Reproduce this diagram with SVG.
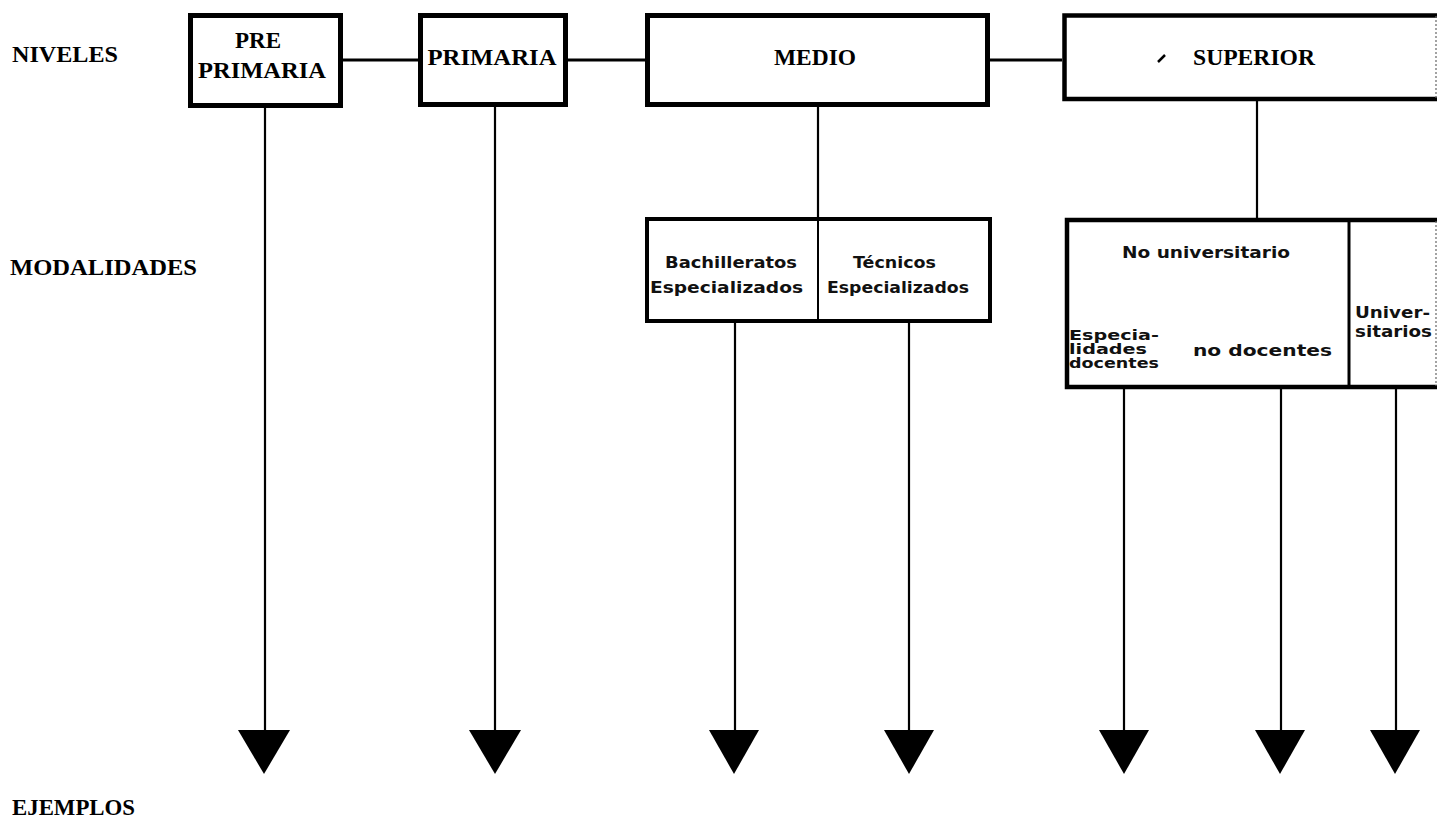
<svg xmlns="http://www.w3.org/2000/svg" width="1439" height="825" viewBox="0 0 1439 825">
<style>
.lbl{font-family:"Liberation Serif","Times New Roman",serif;font-weight:bold;font-size:24px;fill:#000}
.lvl{font-family:"Liberation Serif","Times New Roman",serif;font-weight:bold;font-size:24px;fill:#000;text-anchor:middle}
.mod{font-family:"DejaVu Sans","Liberation Sans",sans-serif;font-weight:bold;font-size:16px;fill:#111}
.sm{font-size:14px}
.box{fill:#fff;stroke:#000;stroke-width:5}
.mbox{fill:#fff;stroke:#000;stroke-width:4}
.edge{fill:none;stroke:#000;stroke-width:4.5}
.thin{fill:none;stroke:#666;stroke-width:1.2;stroke-dasharray:2 2}
.con{stroke:#000;stroke-width:3;fill:none}
.v{stroke:#000;stroke-width:2.2;fill:none}
.head{fill:#000}
</style>
<rect width="1439" height="825" fill="#fff"/>

<g id="row-labels">
<text class="lbl" x="12" y="62" textLength="106" lengthAdjust="spacingAndGlyphs">NIVELES</text>
<text class="lbl" x="10" y="275" textLength="187" lengthAdjust="spacingAndGlyphs">MODALIDADES</text>
<text class="lbl" x="12" y="815" textLength="123" lengthAdjust="spacingAndGlyphs">EJEMPLOS</text>
</g>

<g id="connectors">
<line class="con" x1="343" y1="60" x2="418" y2="60"/>
<line class="con" x1="568" y1="60" x2="645" y2="60"/>
<line class="con" x1="990" y1="60" x2="1062" y2="60"/>
<line class="v" x1="265" y1="108" x2="265" y2="732"/>
<line class="v" x1="495" y1="107" x2="495" y2="732"/>
<line class="v" x1="818" y1="107" x2="818" y2="219"/>
<line class="v" x1="1257" y1="101" x2="1257" y2="220"/>
<line class="v" x1="735" y1="323" x2="735" y2="732"/>
<line class="v" x1="909" y1="323" x2="909" y2="732"/>
<line class="v" x1="1124" y1="389" x2="1124" y2="732"/>
<line class="v" x1="1281" y1="389" x2="1281" y2="732"/>
<line class="v" x1="1396" y1="389" x2="1396" y2="732"/>
<polygon class="head" points="238,730 290,730 264,774"/>
<polygon class="head" points="469,730 521,730 495,774"/>
<polygon class="head" points="709,730 759,730 734,774"/>
<polygon class="head" points="884,730 934,730 909,774"/>
<polygon class="head" points="1099,730 1149,730 1124,774"/>
<polygon class="head" points="1255,730 1305,730 1280,774"/>
<polygon class="head" points="1370,730 1420,730 1395,774"/>
</g>

<g id="pre-primaria">
<rect class="box" x="190.5" y="15.5" width="150" height="90"/>
<text class="lvl" x="258" y="48" textLength="46" lengthAdjust="spacingAndGlyphs">PRE</text>
<text class="lvl" x="262" y="78" textLength="128" lengthAdjust="spacingAndGlyphs">PRIMARIA</text>
</g>

<g id="primaria">
<rect class="box" x="420.5" y="15.5" width="145" height="89"/>
<text class="lvl" x="492" y="65" textLength="129" lengthAdjust="spacingAndGlyphs">PRIMARIA</text>
</g>

<g id="medio">
<rect class="box" x="647.5" y="15.5" width="340" height="89"/>
<text class="lvl" x="815" y="65" textLength="82" lengthAdjust="spacingAndGlyphs">MEDIO</text>
</g>

<g id="superior">
<rect x="1064" y="15" width="373" height="85" fill="#fff"/>
<path class="edge" d="M1437,15.5 H1064.5 V99 H1437"/>
<line class="thin" x1="1436" y1="16" x2="1436" y2="99"/>
<line x1="1158" y1="62" x2="1165" y2="55" stroke="#000" stroke-width="2.5"/>
<text class="lvl" x="1254" y="65" textLength="122" lengthAdjust="spacingAndGlyphs">SUPERIOR</text>
</g>

<g id="medio-modalidades">
<rect class="mbox" x="647" y="219" width="343" height="102"/>
<line stroke="#000" stroke-width="2" x1="818" y1="219" x2="818" y2="321"/>
<text class="mod" x="665" y="268" textLength="132" lengthAdjust="spacingAndGlyphs">Bachilleratos</text>
<text class="mod" x="650" y="293" textLength="153" lengthAdjust="spacingAndGlyphs">Especializados</text>
<text class="mod" x="853" y="268" textLength="83" lengthAdjust="spacingAndGlyphs">Técnicos</text>
<text class="mod" x="827" y="293" textLength="142" lengthAdjust="spacingAndGlyphs">Especializados</text>
</g>

<g id="superior-modalidades">
<rect x="1067" y="220" width="370" height="167" fill="#fff"/>
<path class="edge" d="M1437,220 H1067 V387 H1437"/>
<line class="thin" x1="1436" y1="221" x2="1436" y2="386"/>
<line stroke="#000" stroke-width="3" x1="1349" y1="220" x2="1349" y2="387"/>
<text class="mod" x="1122" y="258" textLength="168" lengthAdjust="spacingAndGlyphs">No universitario</text>
<text class="mod sm" x="1069" y="340" textLength="90" lengthAdjust="spacingAndGlyphs">Especia-</text>
<text class="mod sm" x="1069" y="354" textLength="78" lengthAdjust="spacingAndGlyphs">lidades</text>
<text class="mod sm" x="1069" y="368" textLength="90" lengthAdjust="spacingAndGlyphs">docentes</text>
<text class="mod" x="1193" y="356" textLength="139" lengthAdjust="spacingAndGlyphs">no docentes</text>
<text class="mod" x="1355" y="318" textLength="75" lengthAdjust="spacingAndGlyphs">Univer-</text>
<text class="mod" x="1355" y="337" textLength="77" lengthAdjust="spacingAndGlyphs">sitarios</text>
</g>
</svg>
